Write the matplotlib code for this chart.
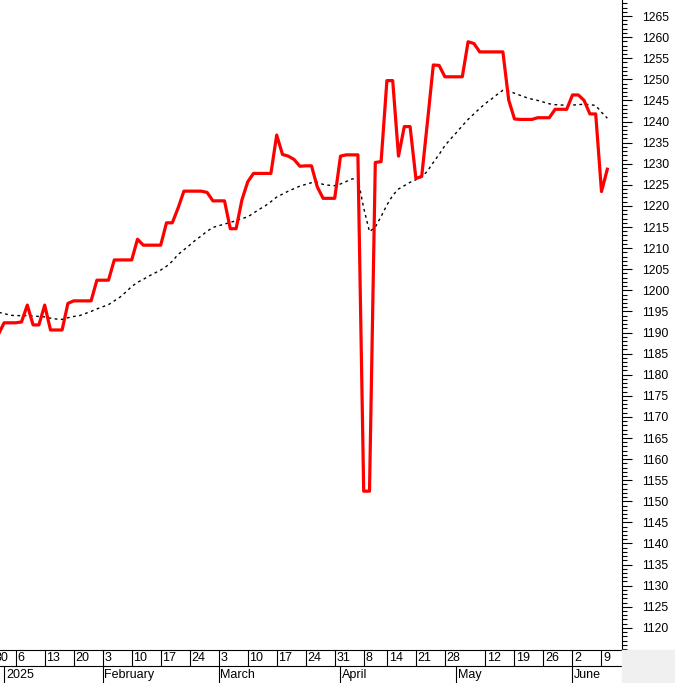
import numpy as np
import matplotlib.pyplot as plt
from matplotlib.patches import Rectangle
from matplotlib.ticker import MultipleLocator

plt.rcParams["font.family"] = ["Liberation Sans", "DejaVu Sans"]

# trading day index, 0 = 30 Dec 2024; series start at index 1 (31 Dec)
close = [
    1189.5, 1192.3, 1192.3, 1192.3, 1192.5, 1196.5, 1191.8, 1191.8, 1196.5, 1190.6,
    1190.6, 1190.6, 1196.9, 1197.5, 1197.5, 1197.5, 1197.5, 1202.4, 1202.4, 1202.4,
    1207.2, 1207.2, 1207.2, 1207.2, 1212.1, 1210.7, 1210.7, 1210.7, 1210.7, 1216.0,
    1216.0, 1219.5, 1223.5, 1223.5, 1223.5, 1223.5, 1223.2, 1221.2, 1221.2, 1221.2,
    1214.6, 1214.6, 1221.4, 1225.7, 1227.7, 1227.7, 1227.7, 1227.7, 1236.8, 1232.2,
    1231.8, 1231.0, 1229.4, 1229.5, 1229.5, 1224.5, 1221.8, 1221.8, 1221.8, 1231.8,
    1232.1, 1232.1, 1232.1, 1152.4, 1152.4, 1230.3, 1230.5, 1249.7, 1249.7, 1231.8,
    1238.8, 1238.8, 1226.5, 1227.0, 1240.0, 1253.4, 1253.3, 1250.6, 1250.6, 1250.6,
    1250.6, 1258.9, 1258.5, 1256.5, 1256.5, 1256.5, 1256.5, 1256.5, 1245.1, 1240.6,
    1240.5, 1240.5, 1240.5, 1240.9, 1240.9, 1240.9, 1242.9, 1242.9, 1242.9, 1246.3,
    1246.3, 1245.0, 1241.8, 1241.8, 1223.4, 1228.7,
]

ma = [
    1194.8, 1194.5, 1194.1, 1194.0, 1194.0, 1194.0, 1193.9, 1193.8, 1193.7, 1193.4,
    1193.2, 1193.1, 1193.5, 1193.8, 1194.0, 1194.5, 1195.0, 1195.6, 1196.1, 1196.6,
    1197.5, 1198.4, 1199.6, 1200.9, 1201.9, 1202.6, 1203.4, 1204.1, 1204.8, 1205.7,
    1206.9, 1208.5, 1209.6, 1210.7, 1211.9, 1212.9, 1214.0, 1214.9, 1215.3, 1215.7,
    1216.1, 1216.5, 1217.0, 1217.4, 1218.3, 1219.2, 1220.0, 1221.0, 1222.1, 1222.8,
    1223.5, 1224.1, 1224.7, 1225.1, 1225.5, 1225.6, 1225.1, 1224.9, 1224.8, 1225.2,
    1225.8, 1226.4, 1226.4, 1219.5, 1213.9, 1215.0, 1217.5, 1220.2, 1222.5, 1224.0,
    1224.8, 1225.6, 1226.2, 1226.8, 1228.3, 1230.3, 1232.2, 1234.3, 1235.9, 1237.4,
    1239.0, 1240.5, 1241.8, 1243.1, 1244.3, 1245.3, 1246.4, 1247.4, 1247.2, 1246.7,
    1246.2, 1245.7, 1245.3, 1245.0, 1244.6, 1244.2, 1244.0, 1243.9, 1243.9, 1243.9,
    1244.0, 1244.1, 1244.0, 1243.8, 1242.2, 1240.8,
]

day_idx = [0, 4, 9, 14, 19, 24, 29, 34, 39, 44, 49, 54, 59, 64, 68, 73, 78, 85, 90, 95, 100, 105]
day_labels = ["30", "6", "13", "20", "3", "10", "17", "24", "3", "10", "17", "24",
              "31", "8", "14", "21", "28", "12", "19", "26", "2", "9"]
month_idx = [2, 19, 39, 60, 80, 100]
month_labels = ["2025", "February", "March", "April", "May", "June"]

W, H = 675, 683
PLOT_R = 622
ROW = 17
XLIM = (7.5 / 5.8, (PLOT_R + 7.5) / 5.8)

fig = plt.figure(figsize=(W / 100, H / 100), dpi=100)
fig.patch.set_facecolor("white")
fig.patches.append(Rectangle((PLOT_R / W, 0), 1 - PLOT_R / W, 2 * ROW / H - 1 / H,
                             transform=fig.transFigure, color="#f0f0f0", zorder=0))

# main price panel
ax = fig.add_axes([0, 33 / H, PLOT_R / W, 1 - 33 / H])
x = np.arange(1, len(close) + 1)
ax.plot(x, ma, color="black", lw=1.0, ls=(0, (2, 2.5)))
ax.plot(x, close, color="#ff0000", lw=2.3)
ax.set_xlim(*XLIM)
ax.set_ylim(1114.76, 1268.8)

for side in ["top", "left"]:
    ax.spines[side].set_visible(False)
ax.spines["right"].set_linewidth(0.8)
ax.spines["bottom"].set_linewidth(0.8)
ax.set_xticks([])
ax.yaxis.tick_right()
ax.set_yticks(np.arange(1120, 1266, 5))
ax.yaxis.set_minor_locator(MultipleLocator(1))
ax.tick_params(axis="y", which="major", length=7.5, width=0.8, pad=7, labelsize=8.7)
ax.tick_params(axis="y", which="minor", length=3.5, width=0.8)

# date rows underneath
ax2 = fig.add_axes([0, 0, PLOT_R / W, 33 / H])
ax2.set_xlim(*XLIM)
ax2.set_ylim(0, 33)
ax2.axis("off")
ax2.axhline(ROW, color="black", lw=0.8)
ax2.vlines(day_idx, ROW, 33, color="black", lw=0.8)
ax2.vlines(month_idx, 0, ROW, color="black", lw=0.8)
for i, lab in zip(day_idx, day_labels):
    ax2.text(i + 0.3, 25, lab, ha="left", va="center", fontsize=9)
for i, lab in zip(month_idx, month_labels):
    ax2.text(i + 0.3, 8, lab, ha="left", va="center", fontsize=9)

fig.savefig("out.png", dpi=100)
